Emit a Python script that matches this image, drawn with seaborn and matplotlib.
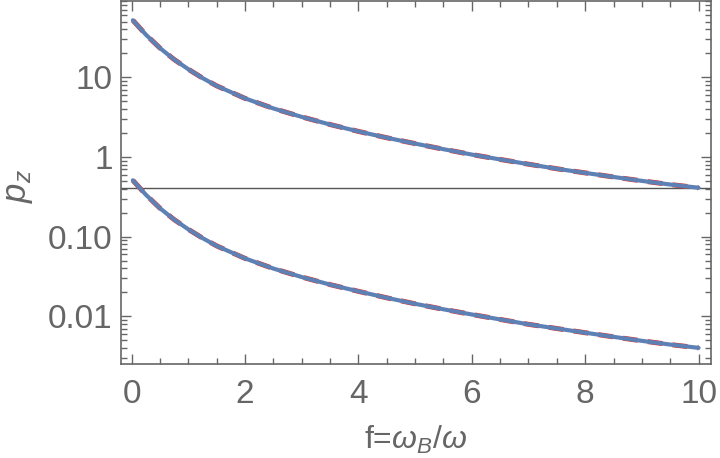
import numpy as np
import pandas as pd
import matplotlib
matplotlib.use("Agg")
import matplotlib.pyplot as plt
import seaborn as sns
from matplotlib.ticker import FixedLocator, FixedFormatter, LogLocator, MultipleLocator, NullFormatter

# values (log y axis)
f_vals = [0.02, 0.25, 0.5, 0.75, 1.0, 1.25, 1.5, 2.0, 2.5, 3.0, 3.5, 4.0, 4.5,
          5.0, 5.5, 6.0, 6.5, 7.0, 7.5, 8.0, 8.5, 9.0, 9.5, 10.0]
p_upper = [52, 34.3, 23.2, 16.7, 12.6, 9.77, 7.80, 5.43, 4.06, 3.18, 2.55, 2.09,
           1.74, 1.47, 1.25, 1.07, 0.93, 0.81, 0.71, 0.63, 0.56, 0.50, 0.45, 0.41]
p_lower = [0.508, 0.335, 0.226, 0.163, 0.123, 0.0955, 0.0762, 0.0531, 0.0396,
           0.0310, 0.0249, 0.0205, 0.0170, 0.0143, 0.0122, 0.0105, 0.0091,
           0.0079, 0.0070, 0.0062, 0.0055, 0.0049, 0.0044, 0.0040]
h_line = 0.41
ytick_vals = [0.01, 0.1, 1, 10]
ytick_text = ["0.01", "0.10", "1", "10"]
xtick_vals = [0, 2, 4, 6, 8, 10]

df = pd.DataFrame({"f": f_vals, "upper": p_upper, "lower": p_lower})

sns.set_style("ticks")
plt.rcParams["font.family"] = ["Liberation Sans", "DejaVu Sans"]
plt.rcParams["mathtext.fontset"] = "custom"
plt.rcParams["mathtext.rm"] = "Liberation Sans"
plt.rcParams["mathtext.it"] = "Liberation Sans:italic"

gray = "#666666"
blue = "#5E81B5"
red = "#E0352B"

fig = plt.figure(figsize=(7.2, 4.58), dpi=100)
ax = fig.add_axes([0.168, 0.205, 0.8195, 0.793])

for col in ["upper", "lower"]:
    sns.lineplot(data=df, x="f", y=col, ax=ax, color=red, lw=3.6,
                 linestyle=(0, (3, 2)), zorder=2)
    sns.lineplot(data=df, x="f", y=col, ax=ax, color=blue, lw=3.0, zorder=3)

ax.axhline(h_line, color="#555555", lw=1.0, zorder=1)

ax.set_yscale("log")
ax.set_xlim(-0.19, 10.22)
ax.set_ylim(0.0025, 91)

ax.xaxis.set_major_locator(FixedLocator(xtick_vals))
ax.xaxis.set_minor_locator(MultipleLocator(0.5))
ax.yaxis.set_major_locator(FixedLocator(ytick_vals))
ax.yaxis.set_major_formatter(FixedFormatter(ytick_text))
ax.yaxis.set_minor_locator(LogLocator(base=10, subs=np.arange(2, 10)))
ax.yaxis.set_minor_formatter(NullFormatter())

ax.tick_params(which="both", direction="in", top=True, right=True,
               color=gray, width=1.0, labelcolor=gray, labelsize=24)
ax.tick_params(which="major", length=7)
ax.tick_params(which="minor", length=4)
ax.tick_params(axis="x", pad=11)
ax.tick_params(axis="y", pad=6)

for s in ax.spines.values():
    s.set_visible(True)
    s.set_color(gray)
    s.set_linewidth(1.2)

ax.set_xlabel(r"f=$\omega_B/\omega$", fontsize=23, color=gray, labelpad=10)
ax.set_ylabel(r"$p_z$", fontsize=25, color=gray)
ax.yaxis.set_label_coords(-0.146, 0.49)

fig.savefig("out.png", dpi=100)
